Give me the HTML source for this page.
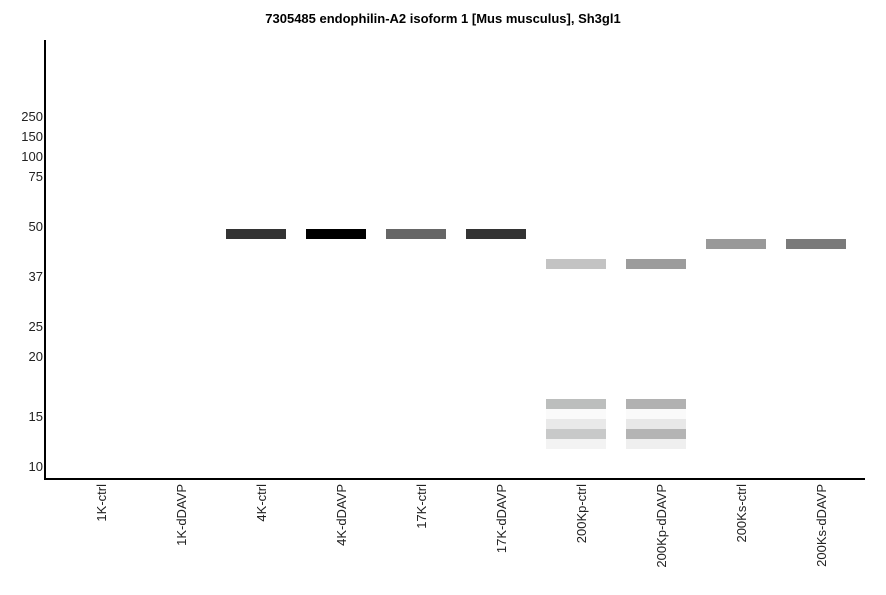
<!DOCTYPE html>
<html><head><style>
body{margin:0;background:#fff;width:886px;height:595px;overflow:hidden;position:relative;font-family:"Liberation Sans",sans-serif}
.t{position:absolute;left:0;width:886px;text-align:center;top:11px;font-size:13px;font-weight:bold}
.y{position:absolute;right:843px;font-size:13px;color:#222;line-height:14px}
.b{position:absolute;width:60px;height:10px}
.x{position:absolute;top:484px;font-size:13px;color:#222;writing-mode:vertical-rl;transform:rotate(180deg);line-height:14px}
</style></head><body>
<div class="t">7305485 endophilin-A2 isoform 1 [Mus musculus], Sh3gl1</div>
<div style="position:absolute;left:44px;top:40px;width:2px;height:440px;background:#000"></div>
<div style="position:absolute;left:44px;top:478px;width:821px;height:2px;background:#000"></div>
<div class="y" style="top:110px">250</div>
<div class="y" style="top:130px">150</div>
<div class="y" style="top:150px">100</div>
<div class="y" style="top:170px">75</div>
<div class="y" style="top:220px">50</div>
<div class="y" style="top:270px">37</div>
<div class="y" style="top:320px">25</div>
<div class="y" style="top:350px">20</div>
<div class="y" style="top:410px">15</div>
<div class="y" style="top:460px">10</div>
<div class="b" style="left:226px;top:229px;background:#333"></div>
<div class="b" style="left:306px;top:229px;background:#000"></div>
<div class="b" style="left:386px;top:229px;background:#666"></div>
<div class="b" style="left:466px;top:229px;background:#333"></div>
<div class="b" style="left:546px;top:259px;background:#c3c3c3"></div>
<div class="b" style="left:626px;top:259px;background:#9c9c9c"></div>
<div class="b" style="left:706px;top:239px;background:#999"></div>
<div class="b" style="left:786px;top:239px;background:#7a7a7a"></div>
<div class="b" style="left:546px;top:399px;background:#bcbebd"></div>
<div class="b" style="left:546px;top:409px;background:#fafafa"></div>
<div class="b" style="left:546px;top:419px;background:#e9e9e9"></div>
<div class="b" style="left:546px;top:429px;background:#c8c9c9"></div>
<div class="b" style="left:546px;top:439px;background:#f3f3f3"></div>
<div class="b" style="left:626px;top:399px;background:#b1b1b1"></div>
<div class="b" style="left:626px;top:409px;background:#fafafa"></div>
<div class="b" style="left:626px;top:419px;background:#e8e8e8"></div>
<div class="b" style="left:626px;top:429px;background:#b4b4b4"></div>
<div class="b" style="left:626px;top:439px;background:#efefef"></div>
<div class="x" style="left:95px">1K-ctrl</div>
<div class="x" style="left:175px">1K-dDAVP</div>
<div class="x" style="left:255px">4K-ctrl</div>
<div class="x" style="left:335px">4K-dDAVP</div>
<div class="x" style="left:415px">17K-ctrl</div>
<div class="x" style="left:495px">17K-dDAVP</div>
<div class="x" style="left:575px">200Kp-ctrl</div>
<div class="x" style="left:655px">200Kp-dDAVP</div>
<div class="x" style="left:735px">200Ks-ctrl</div>
<div class="x" style="left:815px">200Ks-dDAVP</div>
</body></html>
